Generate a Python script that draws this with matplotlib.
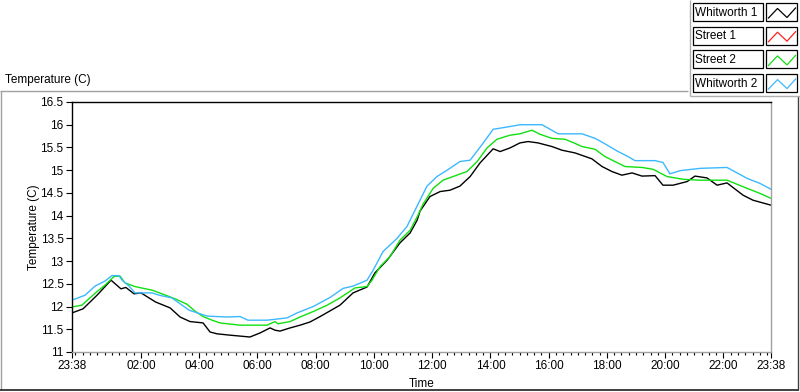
"""
Temperature log chart (23:38 to 23:38 next day), LabVIEW style panel.
"""

import numpy as np
import matplotlib.pyplot as plt
from matplotlib.lines import Line2D
from matplotlib.patches import Rectangle
from matplotlib.transforms import Affine2D

plt.rcParams['font.family'] = ['Liberation Sans', 'DejaVu Sans']
plt.rcParams['font.size'] = 8.5

# Series names and colours, in the legend's order
SERIES_NAMES = ['Whitworth 1', 'Street 1', 'Street 2', 'Whitworth 2']
SERIES_COLORS = ['#000000', '#ff2020', '#10e010', '#3cb8ff']

# Elapsed hours since 23:38 and temperatures (C)
w1_hours = [0, 0.38, 0.86, 1.34, 1.68, 1.85, 2.13, 2.37, 2.87, 3.37, 3.71,
            4.05, 4.50, 4.74, 4.98, 5.43, 6.11, 6.46, 6.80, 6.97, 7.14, 7.49,
            7.83, 8.17, 8.52, 9.20, 9.65, 10.13, 10.40, 10.82, 11.26, 11.61,
            11.85, 11.95, 12.29, 12.64, 12.98, 13.32, 13.67, 14.01, 14.46,
            14.70, 15.04, 15.38, 15.66, 16.00, 16.48, 16.82, 17.27, 17.85,
            18.20, 18.54, 18.88, 19.23, 19.57, 20.02, 20.29, 20.64, 21.12,
            21.39, 21.80, 22.15, 22.49, 23.04, 23.38, 24.0]
w1_temp = [11.86, 11.95, 12.25, 12.58, 12.39, 12.42, 12.28, 12.30, 12.10,
           11.97, 11.77, 11.67, 11.64, 11.44, 11.40, 11.37, 11.33, 11.42,
           11.53, 11.48, 11.46, 11.53, 11.59, 11.66, 11.78, 12.03, 12.30,
           12.43, 12.74, 13.02, 13.40, 13.62, 13.90, 14.10, 14.42, 14.53,
           14.56, 14.65, 14.86, 15.16, 15.47, 15.41, 15.49, 15.60, 15.63,
           15.60, 15.52, 15.44, 15.38, 15.25, 15.08, 14.97, 14.89, 14.94,
           14.87, 14.88, 14.67, 14.67, 14.75, 14.87, 14.83, 14.67, 14.72,
           14.45, 14.34, 14.23]

# Street 1 has no readings on this chart (legend only)
s1_hours = []
s1_temp = []

s2_hours = [0, 0.34, 0.58, 0.86, 1.13, 1.44, 1.65, 1.82, 2.16, 2.75, 3.09,
            3.54, 3.95, 4.22, 4.50, 4.81, 5.08, 5.77, 6.70, 6.97, 7.07, 7.49,
            7.83, 8.28, 8.76, 9.20, 9.72, 10.13, 10.30, 10.58, 10.92, 11.26,
            11.61, 11.88, 12.05, 12.40, 12.74, 13.08, 13.56, 13.91, 14.25,
            14.59, 15.04, 15.38, 15.79, 16.07, 16.48, 16.93, 17.27, 17.51,
            17.96, 18.30, 18.64, 18.99, 19.57, 19.95, 20.43, 20.98, 21.56,
            22.49, 23.18, 23.62, 24.0]
s2_temp = [11.99, 12.03, 12.17, 12.33, 12.47, 12.66, 12.67, 12.52, 12.44,
           12.36, 12.28, 12.17, 12.05, 11.90, 11.78, 11.70, 11.64, 11.59,
           11.59, 11.67, 11.62, 11.67, 11.77, 11.89, 12.03, 12.19, 12.41,
           12.44, 12.58, 12.88, 13.10, 13.46, 13.68, 14.01, 14.25, 14.60,
           14.78, 14.86, 14.97, 15.19, 15.49, 15.68, 15.77, 15.80, 15.88,
           15.79, 15.70, 15.68, 15.59, 15.52, 15.46, 15.30, 15.19, 15.08,
           15.06, 15.02, 14.86, 14.80, 14.78, 14.78, 14.60, 14.49, 14.38]

w2_hours = [0, 0.45, 0.79, 1.13, 1.37, 1.61, 1.72, 1.96, 2.16, 2.75, 2.99,
            3.43, 4.02, 4.64, 5.32, 5.77, 6.04, 6.70, 7.38, 7.73, 8.28, 8.86,
            9.31, 9.65, 10.13, 10.34, 10.68, 11.16, 11.50, 11.88, 12.19,
            12.53, 12.88, 13.32, 13.67, 14.11, 14.46, 15.04, 15.38, 16.14,
            16.69, 17.51, 17.96, 18.30, 18.75, 19.09, 19.33, 20.02, 20.29,
            20.53, 20.88, 21.56, 22.49, 23.18, 23.62, 24.0]
w2_temp = [12.14, 12.25, 12.45, 12.56, 12.68, 12.68, 12.58, 12.45, 12.30,
           12.30, 12.25, 12.19, 11.92, 11.79, 11.77, 11.78, 11.70, 11.70,
           11.75, 11.86, 12.00, 12.20, 12.40, 12.45, 12.58, 12.80, 13.21,
           13.50, 13.76, 14.25, 14.65, 14.86, 15.00, 15.19, 15.22, 15.59,
           15.90, 15.96, 16.00, 16.00, 15.80, 15.80, 15.70, 15.58, 15.41,
           15.30, 15.21, 15.21, 15.17, 14.92, 14.99, 15.04, 15.06, 14.82,
           14.71, 14.58]

SERIES_HOURS = [w1_hours, s1_hours, s2_hours, w2_hours]
SERIES_TEMPS = [w1_temp, s1_temp, s2_temp, w2_temp]

START_MINUTES = 23 * 60 + 38
Y_TICKS = [11, 11.5, 12, 12.5, 13, 13.5, 14, 14.5, 15, 15.5, 16, 16.5]

W, H = 800, 392


def clock_label(hours):
    m = int(round(START_MINUTES + hours * 60)) % (24 * 60)
    return f"{m // 60:02d}:{m % 60:02d}"


fig = plt.figure(figsize=(W / 100, H / 100), dpi=100)
fig.patch.set_facecolor('white')

# pixel coordinates (origin top-left) -> figure
px = Affine2D().scale(1 / W, -1 / H).translate(0, 1) + fig.transFigure


def pline(xs, ys, color, lw=1.0):
    fig.add_artist(Line2D(xs, ys, transform=px, color=color, lw=lw,
                          solid_capstyle='butt'))


ax = fig.add_axes([72 / W, 1 - 352 / H, (771 - 72) / W, (352 - 102) / H])

for hrs, temps, color in zip(SERIES_HOURS, SERIES_TEMPS, SERIES_COLORS):
    ax.plot(hrs, temps, color=color, lw=1.0)

ax.set_xlim(0, 24)
ax.set_ylim(11, 16.5)

# x ticks: ends at 23:38, every 2 h in between, minor every 15 min
offset = 22 / 60  # 23:38 -> 00:00
major = [0] + list(np.arange(2, 24, 2) + offset) + [24]
minor = np.arange(offset - 0.25, 24, 0.25)
ax.set_xticks(major)
ax.set_xticklabels([clock_label(h) for h in major])
ax.set_xticks(minor, minor=True)

ax.set_yticks(Y_TICKS)
ax.set_yticklabels([f"{v:g}" for v in Y_TICKS])

ax.tick_params(axis='x', which='major', length=4, width=0.8, pad=2,
               labelsize=8.5)
ax.tick_params(axis='x', which='minor', length=2.5, width=0.8)
ax.tick_params(axis='y', length=4, width=0.8, pad=2, labelsize=8.5)

for side in ['top', 'left']:
    ax.spines[side].set_color('black')
    ax.spines[side].set_linewidth(1.0)
for side in ['bottom', 'right']:
    ax.spines[side].set_color('#a0a0a0')
    ax.spines[side].set_linewidth(1.0)

ax.set_xlabel('Time', fontsize=8.5, labelpad=4)
ax.set_ylabel('Temperature (C)', fontsize=8.5, labelpad=0.5)

# Graph panel frame and caption
fig.text(5 / W, 1 - 80 / H, 'Temperature (C)', ha='left', va='center',
         fontsize=8.5)
pline([0, 688], [91.5, 91.5], '#a0a0a0')
pline([1, 1], [91.5, 390], '#a0a0a0')
pline([0, 799], [390, 390], '#202020', lw=1.2)
pline([798, 798], [96, 390], '#404040')

# Legend panel
pline([690, 690], [0, 96], '#b0b0b0')
pline([690, 800], [96, 96], '#b0b0b0')

for i, (name, color) in enumerate(zip(SERIES_NAMES, SERIES_COLORS)):
    top = 3 + i * 23.7
    fig.add_artist(Rectangle((692.5 / W, 1 - (top + 18) / H), 70 / W,
                             18 / H, transform=fig.transFigure,
                             facecolor='white', edgecolor='black', lw=0.9))
    fig.add_artist(Rectangle((766 / W, 1 - (top + 18) / H), 31 / W,
                             18 / H, transform=fig.transFigure,
                             facecolor='white', edgecolor='black', lw=0.9))
    fig.text(695 / W, 1 - (top + 9.5) / H, name, ha='left', va='center',
             fontsize=8.5)
    # zig-zag line sample
    pline([768, 777.5, 787, 796], [top + 15.5, top + 5.5, top + 14.5,
                                  top + 4.5], color, lw=0.9)

fig.savefig('out.png', dpi=100, facecolor='white')
